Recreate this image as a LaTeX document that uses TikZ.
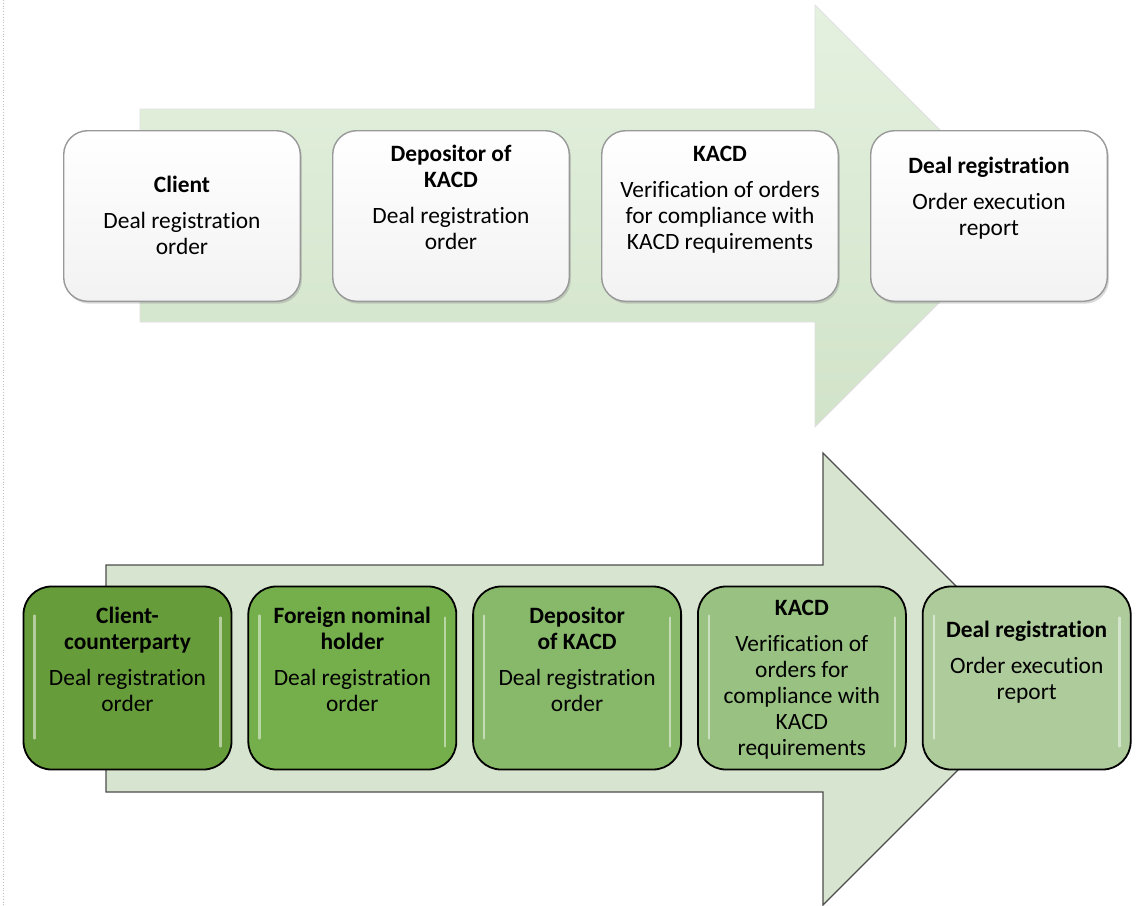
\documentclass[tikz,border=0pt]{standalone}
\usepackage{fontspec}
\setmainfont{Carlito}[Ligatures=NoCommon]
\usetikzlibrary{positioning,shadows,calc}

\definecolor{flowLight}{HTML}{E4F1DF}
\definecolor{flowDark}{HTML}{D1E3C9}
\definecolor{flowFill}{HTML}{D7E4CF}
\definecolor{stepA}{HTML}{679C3B}
\definecolor{stepB}{HTML}{74AF4C}
\definecolor{stepC}{HTML}{88B96B}
\definecolor{stepD}{HTML}{99C282}
\definecolor{stepE}{HTML}{AECB9B}

\newcommand{\cardfont}{\fontsize{11.7pt}{13pt}\selectfont}
\newcommand{\cardstrut}{\rule{0pt}{9pt}}

\tikzset{
  whitecard/.style={rounded corners=12pt, minimum width=118.3pt, minimum height=85.3pt,
    draw=black!40, line width=0.7pt, top color=white, bottom color=black!5,
    drop shadow={shadow xshift=0.8pt, shadow yshift=-1.2pt, opacity=0.3}},
  greencard/.style={rounded corners=14pt, minimum width=104pt, minimum height=91.5pt,
    draw=black, line width=0.9pt},
  cardtext/.style={align=center, inner sep=0pt, font=\cardfont},
  glossline/.style={white, opacity=0.5, line width=1.2pt, line cap=round},
}

\begin{document}
\begin{tikzpicture}[x=0.5pt, y=-0.5pt]
    \useasboundingbox (0,0) rectangle (1137,906);

    % page edge
    \draw[black!25, densely dotted] (3,0) -- (3,906);

    % Upper flow arrow
    \shade[top color=flowLight, bottom color=flowDark, draw=black!12, line width=0.4pt]
        (140,109) -- (815,109) -- (815,5) -- (1026,216) -- (815,427) -- (815,322) -- (140,322) -- cycle;

    % Upper steps
    \node[whitecard] (c1) at (182,216) {};
    \node[whitecard, right=15.5pt of c1] (c2) {};
    \node[whitecard, right=15.5pt of c2] (c3) {};
    \node[whitecard, right=15.5pt of c3] (c4) {};

    \node[cardtext, below=22pt of c1.north] (c1t)
        {\cardstrut\textbf{Client}\\[5pt]Deal registration\\order};
    \node[cardtext, below=6.5pt of c2.north] (c2t)
        {\cardstrut\textbf{Depositor of}\\\textbf{KACD}\\[5pt]Deal registration\\order};
    \node[cardtext, below=6.5pt of c3.north] (c3t)
        {\cardstrut\textbf{KACD}\\[5pt]Verification of orders\\for compliance with\\KACD requirements};
    \node[cardtext, below=12.5pt of c4.north] (c4t)
        {\cardstrut\textbf{Deal registration}\\[5pt]Order execution\\report};

    % Lower flow arrow
    \draw[fill=flowFill, draw=black!70, line width=0.6pt]
        (106,565) -- (823,565) -- (823,453) -- (1049,679) -- (823,905) -- (823,792) -- (106,792) -- cycle;

    % Lower steps
    \node[greencard, fill=stepA] (g1) at (127.5,678) {};
    \node[greencard, fill=stepB, right=7.5pt of g1] (g2) {};
    \node[greencard, fill=stepC, right=7.5pt of g2] (g3) {};
    \node[greencard, fill=stepD, right=7.5pt of g3] (g4) {};
    \node[greencard, fill=stepE, right=7.5pt of g4] (g5) {};

    \foreach \g in {g1,g2,g3,g4,g5} {
        \draw[glossline] ($(\g.north west)+(12,30)$) -- ($(\g.south west)+(12,-32)$);
        \draw[glossline] ($(\g.north east)+(-12,32)$) -- ($(\g.south east)+(-12,-24)$);
    }

    \node[cardtext, below=9.5pt of g1.north] (g1t)
        {\cardstrut\textbf{Client-}\\\textbf{counterparty}\\[5pt]Deal registration\\order};
    \node[cardtext, below=9.5pt of g2.north] (g2t)
        {\cardstrut\textbf{Foreign nominal}\\\textbf{holder}\\[5pt]Deal registration\\order};
    \node[cardtext, below=9.5pt of g3.north] (g3t)
        {\cardstrut\textbf{Depositor}\\\textbf{of KACD}\\[5pt]Deal registration\\order};
    \node[cardtext, below=5.5pt of g4.north] (g4t)
        {\cardstrut\textbf{KACD}\\[5pt]Verification of\\orders for\\compliance with\\KACD\\requirements};
    \node[cardtext, below=16.5pt of g5.north] (g5t)
        {\cardstrut\textbf{Deal registration}\\[5pt]Order execution\\report};
\end{tikzpicture}
\end{document}
